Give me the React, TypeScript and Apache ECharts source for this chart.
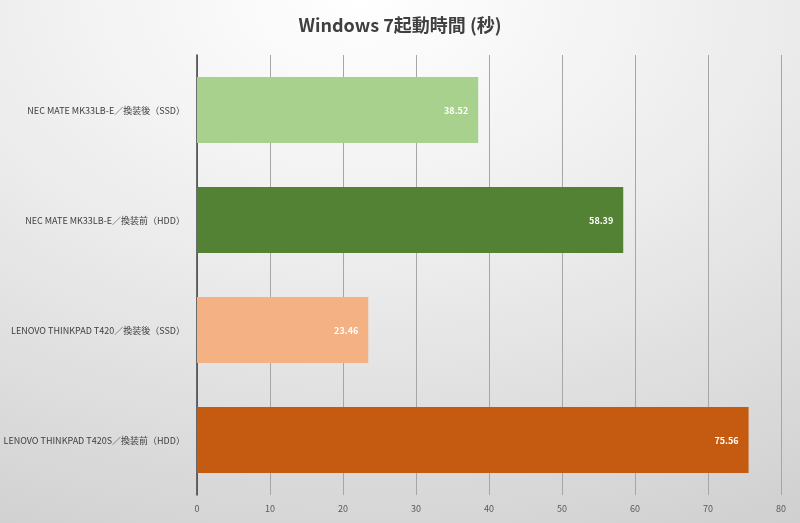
import React, { useEffect, useRef } from "react";
import * as echarts from "echarts";

const categories = [
  "NEC MATE MK33LB-E／換装後（SSD）",
  "NEC MATE MK33LB-E／換装前（HDD）",
  "LENOVO THINKPAD T420／換装後（SSD）",
  "LENOVO THINKPAD T420S／換装前（HDD）",
];
const bootSeconds = [38.52, 58.39, 23.46, 75.56];
const barColors = ["#a9d18e", "#548235", "#f4b183", "#c55a11"];
const xTicks = { min: 0, max: 80, interval: 10 };

const FONT = "'Noto Sans CJK JP', 'Noto Sans', sans-serif";

const App = () => {
  const chartRef = useRef(null);

  // eslint-disable-next-line consistent-return
  useEffect(() => {
    if (chartRef.current) {
      const chart = echarts.init(chartRef.current, null, { renderer: "svg" });

      const options: echarts.EChartsOption = {
        animation: false,
        backgroundColor: {
          type: "radial",
          x: 0.45,
          y: 0,
          r: 1.15,
          colorStops: [
            { offset: 0, color: "#ffffff" },
            { offset: 0.45, color: "#ececec" },
            { offset: 1, color: "#cfcfcf" },
          ],
        },
        title: {
          text: "Windows 7起動時間 (秒)",
          left: "center",
          top: 10,
          textStyle: {
            fontFamily: FONT,
            fontSize: 18,
            fontWeight: "bold",
            color: "#404040",
          },
        },
        grid: {
          top: 55,
          right: 19,
          bottom: 28,
          left: 197,
        },
        xAxis: {
          type: "value",
          min: xTicks.min,
          max: xTicks.max,
          interval: xTicks.interval,
          axisLine: { show: false },
          axisTick: { show: false },
          axisLabel: {
            fontFamily: FONT,
            fontSize: 9,
            color: "#595959",
            margin: 9,
          },
          splitLine: {
            show: true,
            lineStyle: { color: "#a6a6a6", width: 1 },
          },
        },
        yAxis: {
          type: "category",
          inverse: true,
          data: categories,
          axisLine: { show: true, lineStyle: { color: "#404040", width: 1.5 } },
          axisTick: { show: false },
          axisLabel: {
            fontFamily: FONT,
            fontSize: 9,
            color: "#404040",
            margin: 12,
          },
        },
        series: [
          {
            type: "bar",
            barCategoryGap: "40%",
            data: bootSeconds.map((v, i) => ({
              value: v,
              itemStyle: { color: barColors[i] },
            })),
            label: {
              show: true,
              position: "insideRight",
              distance: 10,
              fontFamily: FONT,
              fontSize: 9,
              fontWeight: "bold",
              color: "#ffffff",
              formatter: (p: any) => p.value.toFixed(2),
            },
          },
        ],
      };
      chart.setOption(options);
      return () => {
        chart.dispose();
      };
    }
  }, []);

  return (
    <div
      ref={chartRef}
      style={{ position: "fixed", left: 0, top: 0, width: "800px", height: "523px" }}
    />
  );
};

export default App;
